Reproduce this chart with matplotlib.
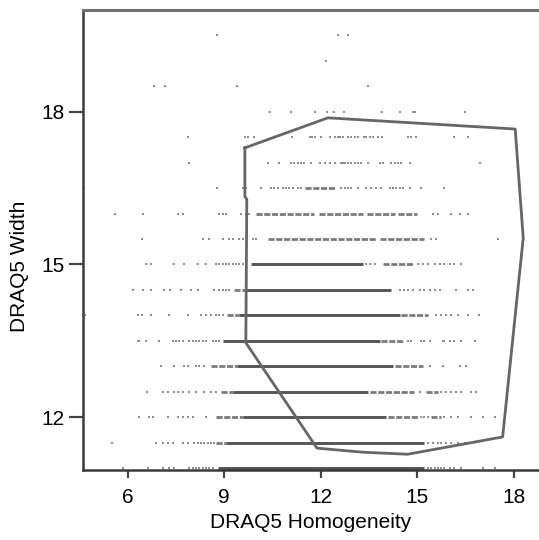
import numpy as np
import matplotlib.pyplot as plt

plt.rcParams['font.family'] = ['Liberation Sans', 'DejaVu Sans']

# solid runs of events along each width level (x start, x end)
solid_runs = {
    11.0: [(8.80, 15.22)],
    11.5: [(9.05, 15.22)],
    12.0: [(9.57, 14.03)],
    12.5: [(9.26, 13.46)],
    13.0: [(9.40, 14.24)],
    13.5: [(8.95, 13.83)],
    14.0: [(9.47, 14.45)],
    14.5: [(9.67, 14.19)],
    15.0: [(9.83, 13.31)],
}

# dense but broken runs
dense_runs = {
    11.5: [(8.75, 9.05)],
    12.0: [(8.74, 9.57), (14.08, 15.02), (15.43, 15.74)],
    12.5: [(8.90, 9.26), (13.52, 14.91), (15.28, 15.64)],
    13.0: [(8.59, 9.40), (14.29, 15.17)],
    13.5: [(13.88, 14.60)],
    14.0: [(9.10, 9.47), (14.50, 15.33)],
    14.5: [(9.30, 9.67)],
    15.0: [(13.93, 14.86)],
    15.5: [(10.35, 13.72), (13.83, 15.22)],
    16.0: [(10.00, 11.80), (11.95, 13.30), (13.45, 14.30), (14.40, 15.00)],
    16.5: [(11.50, 12.48)],
}

# single events
dots = {
    11.0: [5.84, 6.62, 7.09, 7.29, 7.45, 7.91, 8.02, 8.12, 8.22, 8.33, 8.43, 8.54,
           8.64, 15.33, 15.43, 15.54, 15.64, 15.74, 15.84, 16.00, 16.15, 16.36,
           17.03, 17.40],
    11.5: [5.51, 6.88, 7.09, 7.24, 7.40, 7.71, 7.86, 8.07, 8.17, 8.28, 8.38, 8.48,
           8.59, 8.69, 15.33, 15.48, 15.64, 15.74, 15.90, 16.05, 16.26, 16.47, 16.67],
    12.0: [6.36, 6.67, 6.78, 7.24, 7.55, 7.71, 7.86, 8.02, 8.43, 15.12, 15.22,
           15.33, 15.84, 16.05, 16.26, 16.67, 17.03, 17.40],
    12.5: [6.60, 7.09, 7.24, 7.45, 7.55, 7.71, 7.91, 8.12, 8.38, 8.59, 8.74,
           15.07, 15.74, 15.90, 16.05, 16.21, 16.36, 16.67, 16.83],
    13.0: [7.04, 7.45, 7.76, 7.86, 8.12, 8.22, 8.38, 15.38, 15.79, 16.31, 16.52],
    13.5: [6.31, 6.36, 6.57, 6.98, 7.40, 7.50, 7.60, 7.71, 7.91, 8.02, 8.12, 8.22,
           8.33, 8.43, 8.64, 8.74, 8.85, 14.71, 14.81, 15.12, 15.22, 15.38, 15.79,
           15.84, 16.00, 16.15, 16.36, 16.78],
    14.0: [4.68, 6.31, 6.44, 6.72, 7.27, 7.86, 8.28, 8.43, 8.59, 8.74, 8.85, 8.95,
           15.59, 15.74, 15.90, 16.05, 16.26, 16.57, 16.93],
    14.5: [6.15, 6.47, 6.72, 7.14, 7.31, 7.66, 7.97, 8.17, 8.69, 8.85, 8.95, 9.05,
           9.16, 14.45, 14.60, 14.71, 14.86, 15.07, 15.22, 15.38, 15.54, 15.69,
           16.21, 16.57, 16.73],
    15.0: [6.57, 6.72, 7.45, 7.76, 8.17, 8.43, 8.74, 8.85, 8.95, 9.05, 9.16, 9.26,
           9.36, 9.47, 9.57, 9.67, 13.41, 13.52, 13.67, 15.02, 15.17, 15.33, 15.54,
           15.69, 15.84, 16.00, 16.15, 16.36],
    15.5: [6.44, 8.33, 8.54, 8.95, 9.16, 9.26, 9.47, 9.57, 9.88, 9.99, 15.43,
           15.59, 17.50],
    16.0: [5.59, 6.47, 7.55, 7.71, 8.85, 8.95, 9.05, 9.52, 9.67, 9.78, 15.48,
           15.64, 16.05, 16.31, 16.57],
    16.5: [4.65, 8.77, 9.57, 9.67, 10.14, 10.45, 10.55, 10.66, 10.81, 10.92, 11.02,
           11.14, 11.28, 11.38, 12.64, 12.74, 12.84, 12.95, 13.15, 13.41, 13.57,
           13.72, 13.88, 14.14, 14.24, 14.34, 14.45, 14.55, 14.76, 15.12, 15.84],
    17.0: [7.91, 10.35, 10.69, 11.07, 11.18, 11.28, 11.38, 11.49, 11.70, 11.96,
           12.12, 12.27, 12.43, 12.64, 12.69, 12.74, 12.84, 12.95, 13.05, 13.15,
           13.26, 13.46, 13.83, 13.93, 14.19, 14.29, 14.40, 14.50, 14.76, 16.95],
    17.5: [7.87, 9.64, 9.73, 9.93, 11.12, 11.65, 11.72, 11.81, 12.01, 12.27, 12.43,
           12.53, 12.61, 12.69, 12.84, 12.95, 13.05, 13.15, 13.34, 13.39, 13.54,
           13.62, 13.79, 13.90, 14.71, 14.81, 14.97, 16.15, 16.57],
    18.0: [10.41, 11.08, 11.81, 12.20, 12.41, 12.72, 13.90, 14.46, 14.86, 14.94, 16.47],
    18.5: [6.83, 7.16, 9.40, 13.46],
    19.0: [12.17],
    19.5: [8.76, 12.53, 12.84],
}

# gate outline
gate_x = [9.64, 12.22, 18.04, 18.29, 17.65, 14.70, 13.30, 11.88, 9.67, 9.70, 9.64, 9.64]
gate_y = [17.29, 17.88, 17.66, 15.52, 11.61, 11.27, 11.31, 11.39, 13.46, 16.28, 16.33, 17.29]

fig = plt.figure(figsize=(5.39, 5.40), dpi=100)
ax = fig.add_axes([0.154, 0.1296, 0.846, 0.852])

for y, runs in dense_runs.items():
    for x0, x1 in runs:
        ax.plot([x0, x1], [y, y], color='#7a7a7a', lw=2.0, ls=(0, (2.2, 0.6)),
                solid_capstyle='butt')
for y, runs in solid_runs.items():
    for x0, x1 in runs:
        ax.plot([x0, x1], [y, y], color='#555555', lw=2.1, solid_capstyle='butt')
for y, xs in dots.items():
    ax.scatter(xs, np.full(len(xs), y), marker='s', s=3.5, color='#8e8e8e',
               linewidths=0)

ax.plot(gate_x, gate_y, color='#666666', lw=2.0)

ax.set_xlim(4.61, 18.78)
ax.set_ylim(10.96, 20.0)
ax.set_xticks([6, 9, 12, 15, 18])
ax.set_yticks([12, 15, 18])
ax.tick_params(axis='x', length=6, width=1.6, color='#444444', labelsize=15, pad=7)
ax.tick_params(axis='y', length=10, width=1.6, color='#444444', labelsize=15, pad=3)

for side in ['left', 'bottom']:
    ax.spines[side].set_color('#3a3a3a')
    ax.spines[side].set_linewidth(1.8)
ax.spines['top'].set_color('#707070')
ax.spines['top'].set_linewidth(2.2)
ax.spines['right'].set_color('#dddddd')
ax.spines['right'].set_linewidth(1.0)

ax.set_xlabel('DRAQ5 Homogeneity', fontsize=15)
ax.set_ylabel('DRAQ5 Width', fontsize=15)
ax.xaxis.set_label_coords(0.5, -0.093)
ax.yaxis.set_label_coords(-0.118, 0.443)

fig.savefig('out.png', dpi=100)
